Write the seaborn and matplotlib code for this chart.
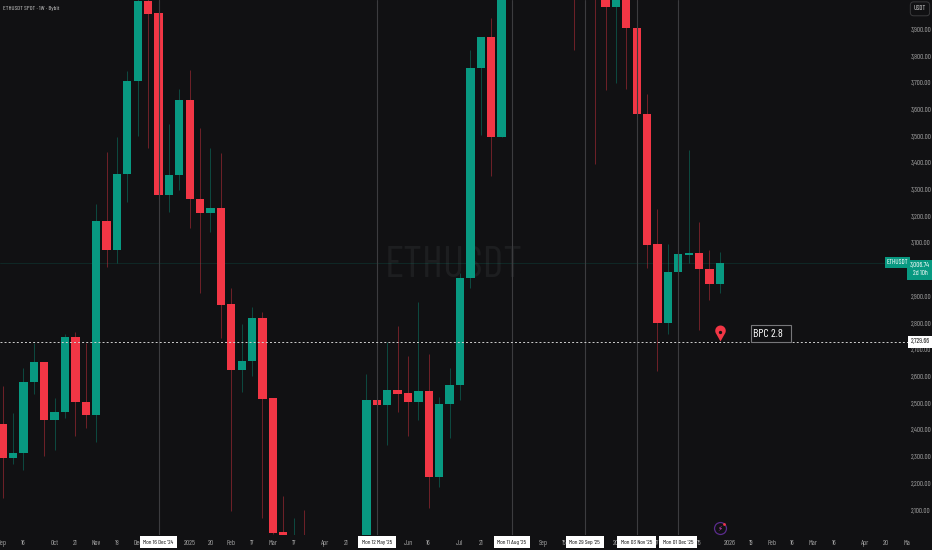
import numpy as np
import pandas as pd
import matplotlib
matplotlib.use("Agg")
import matplotlib.pyplot as plt
from matplotlib.path import Path
import seaborn as sns

opens = [2422,2296,2313,2578,2655,2437,2466,2747,2506,2455,3183,3074,3358,3705,4005,3960,3280,3354,3636,3266,
         3212,3232,2870,2624,2658,2819,2518,2018,1890,1985,1800,1790,1580,1640,1800,1840,2512,2494,2549,2538,
         2504,2544,2224,2497,2568,2970,3755,3872,3496,4250,4600,4470,4780,4300,4470,4510,4150,4510,4150,3982,
         4130,3906,3582,3095,2799,2990,3056,3061,3001,2947]
highs = [2564,2462,2631,2724,2655,2521,2758,2765,2724,3246,3441,3498,3745,4050,4095,4090,3545,3675,3748,3529,
         3454,3438,2930,2795,2859,2840,2518,2153,2069,2100,1990,1840,1690,1860,1960,2608,2725,2730,2790,2677,
         2878,2683,2524,2631,2987,3822,3872,3941,4300,4700,4790,4950,4890,4490,4770,4560,4590,4750,4290,4250,
         4200,4100,3657,3226,3095,3298,3448,3180,3074,3065]
lows = [2146,2272,2250,2534,2302,2325,2443,2378,2406,2356,3011,3024,3254,3500,3454,3205,3217,3298,3155,2913,
        3142,2743,2096,2543,2602,2071,2010,1900,1800,1750,1770,1380,1470,1540,1740,1780,1990,2343,2468,2378,
        2437,2109,2187,2368,2512,2932,3504,3352,3496,4200,4060,4210,4200,4260,4450,3822,4080,3394,3673,3700,
        3676,3523,3005,2621,2758,2943,3024,2774,2886,2911]
closes = [2296,2315,2579,2655,2437,2467,2747,2506,2455,3183,3074,3359,3706,4005,3958,3280,3354,3636,3266,3212,
          3232,2868,2624,2659,2819,2517,2015,2006,1990,1800,1820,1580,1640,1800,1840,2512,2494,2549,2535,2504,
          2544,2224,2497,2568,2970,3755,3872,3496,4250,4600,4470,4780,4300,4470,4510,4150,4510,4150,3982,4130,
          3906,3582,3092,2799,2992,3058,3061,3001,2947,3025]

x_ticks = [0,2,5,7,9,11,13,18,20,22,24,26,28,31,33,39,41,44,46,52,54,59,63,67,70,72,74,76,78,80,83,85,87]
x_labels = ["Sep","16","Oct","21","Nov","18","Dec","2025","20","Feb","17","Mar","17","Apr","21","Jun","16","Jul","21",
            "Sep","15","20","17","15","2026","19","Feb","16","Mar","16","Apr","20","Ma"]
marked_weeks = [15,36,49,56,61,65]
marked_labels = ["Mon 16 Dec '24","Mon 12 May '25","Mon 11 Aug '25","Mon 29 Sep '25","Mon 03 Nov '25","Mon 01 Dec '25"]
y_ticks = [2100,2200,2300,2400,2500,2600,2700,2800,2900,3100,3200,3300,3400,3500,3600,3700,3800,3900]

UP, DOWN = "#089981", "#F23645"
BG = "#111113"

sns.set_theme(style="dark", rc={"axes.facecolor": BG, "figure.facecolor": BG, "axes.grid": False})
plt.rcParams["font.family"] = ["Barlow Condensed", "Roboto Condensed", "Roboto", "DejaVu Sans"]

fig = plt.figure(figsize=(9.32, 5.5), dpi=100)
ax = fig.add_axes([0, 15/550, 908/932, 535/550])

df = pd.DataFrame({"week": np.arange(len(opens)), "o": opens, "h": highs, "l": lows, "c": closes})
df["low_body"] = df[["o", "c"]].min(axis=1)
df["size"] = (df["o"] - df["c"]).abs()
df["up"] = df["c"] >= df["o"]

for up, col in [(True, UP), (False, DOWN)]:
    sub = df[df["up"] == up]
    ax.vlines(sub["week"], sub["l"], sub["h"], color=col, lw=0.7, alpha=0.42, zorder=1)
    sns.barplot(data=sub, x="week", y="size", bottom=sub["low_body"].to_numpy(), color=col, saturation=1,
                native_scale=True, width=0.8, errorbar=None, linewidth=0, ax=ax, zorder=2)

ax.set_xlim(-0.25, 87.10)
ax.set_ylim(2006.4, 4009.7)
ax.set_xlabel("")
ax.set_ylabel("")
for s in ax.spines.values():
    s.set_visible(False)

# watermark, last-price line, alert line, marked weeks
ax.text(43.4, 3014, "ETHUSDT", color="#1d1e20", fontsize=32, ha="center", va="center", zorder=0)
ax.axhline(closes[-1], color=UP, lw=0.6, alpha=0.2, zorder=1)
for w in marked_weeks:
    ax.axvline(w, color="#3c3c3f", lw=0.8, zorder=3)
ax.axhline(2729.66, color="#d0d0d0", lw=0.7, ls=(0, (2.0, 2.2)), zorder=3)

# ticks
all_x = x_ticks + marked_weeks
all_l = x_labels + marked_labels
ax.set_xticks(all_x)
ax.set_xticklabels(all_l)
ax.tick_params(axis="x", length=0, pad=3.4, labelsize=5.2, labelcolor="#a6a6a6")
for lab in ax.get_xticklabels():
    if lab.get_text().startswith("Mon"):
        lab.set_color("#111111")
        lab.set_fontsize(4.5)
        lab.set_zorder(5)
        lab.set_bbox(dict(facecolor="white", edgecolor="none", pad=2.6))
ax.yaxis.tick_right()
ax.set_yticks(y_ticks)
ax.set_yticklabels([f"{v:,}.00" for v in y_ticks])
ax.tick_params(axis="y", length=0, pad=2.0, labelsize=5.0, labelcolor="#a6a6a6")

# chart header
ax.text(0.0035, 0.9835, "ETHUSDT SPOT · 1W · Bybit", transform=ax.transAxes, color="#c8c8c8", fontsize=4.6,
        va="center", ha="left", zorder=6)

# right price axis annotations
ytr = ax.get_yaxis_transform()
ax.text(1.0132, 0.9835, "USDT", transform=ax.transAxes, color="#d0d0d0", fontsize=5, ha="center", va="center",
        clip_on=False, bbox=dict(boxstyle="round,pad=0.5", facecolor=BG, edgecolor="#3a3a3c", lw=0.7))
ax.text(0.9885, closes[-1] + 2, "ETHUSDT", transform=ytr, color="white", fontsize=5, ha="center", va="center",
        zorder=6, bbox=dict(facecolor=UP, edgecolor="none", pad=1.4))
ax.text(1.0132, 3000, "3,006.74\n2d 10h", transform=ytr, color="white", fontsize=5.0, ha="center", va="center",
        linespacing=1.2, clip_on=False, zorder=6, bbox=dict(facecolor=UP, edgecolor="none", pad=1.8))
ax.text(1.0132, 2729.66, "2,729.66", transform=ytr, color="#111111", fontsize=5.0, ha="center", va="center",
        clip_on=False, zorder=6, bbox=dict(facecolor="white", edgecolor="none", pad=1.6))

# alert label and pin
ax.add_patch(plt.Rectangle((72.0, 2729.66), 3.85, 63.5, facecolor=BG, edgecolor="#77777a", lw=0.8, zorder=4))
ax.text(72.2, 2760, "BPC 2.8", color="white", fontsize=8.4, ha="left", va="center", zorder=6)
t = np.linspace(np.pi * -0.2, np.pi * 1.2, 30)
verts = np.vstack([np.c_[0.66 * np.cos(t), 0.34 + 0.66 * np.sin(t)], [[0, -1]], [[0.66 * np.cos(t[0]), 0.34 + 0.66 * np.sin(t[0])]]])
codes = [Path.MOVETO] + [Path.LINETO] * (len(verts) - 2) + [Path.CLOSEPOLY]
pin = Path(verts, codes)
ax.plot([69], [2763], marker=pin, ms=11.5, color=DOWN, mew=0, ls="", zorder=6)
ax.plot([69], [2768], marker="o", ms=2.4, color=BG, mew=0, ls="", zorder=7)

# lightning badge
ax.plot([69], [2031], marker="o", ms=8.6, mfc="none", mec="#5a2b8c", mew=0.9, ls="", zorder=6)
ax.text(69, 2031, "⚡", color="#d846c8", fontsize=5, ha="center", va="center", family=["DejaVu Sans"], zorder=7)
ax.plot([69.4], [2046], marker="o", ms=2, color=DOWN, mew=0, ls="", zorder=7)

fig.savefig("out.png", dpi=100, facecolor=BG)
